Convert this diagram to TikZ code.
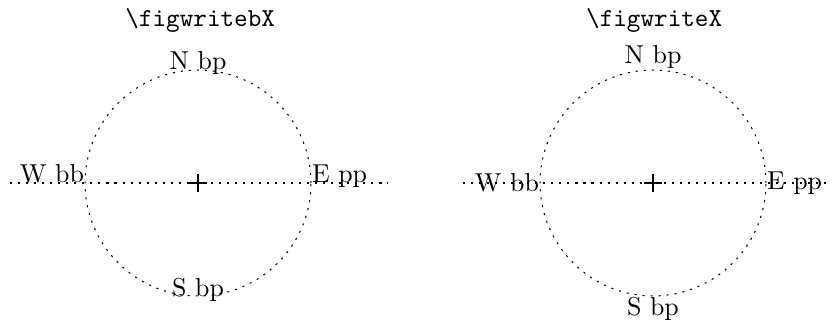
\documentclass[tikz,border=0pt]{standalone}
\usetikzlibrary{positioning}
\begin{document}
\begin{tikzpicture}[
  ring/.style={draw,dash pattern=on 0.8pt off 2.3pt,circle,minimum size=3.066cm,inner sep=0pt},
  guide/.style={dash pattern=on 0.8pt off 2.3pt},
  lbl/.style={inner sep=0pt},
  title/.style={font=\ttfamily},
  cross/.style={line width=0.7pt}]
  \useasboundingbox (-2.687,-1.886) rectangle (8.603,2.483);
  % left picture: labels sit on their base line
  \node[ring] (lring) at (0,0) {};
  \coordinate (lw) at (-2.55,0);
  \coordinate (le) at (2.58,0);
  \draw[guide] (lw) -- (le);
  \node[title] (ltitle) at (0.03,2.21) {\textbackslash figwritebX};
  \node[lbl,anchor=base] (ln) at (lring.north) {N bp};
  \node[lbl,anchor=base] (ls) at (lring.south) {S bp};
  \node[lbl,anchor=base east] (lwl) at (lring.west) {W bb};
  \node[lbl,anchor=base west] (lel) at (lring.east) {E pp};
  \draw[cross] ([xshift=-3.5pt]lring.center) -- ([xshift=3.5pt]lring.center);
  \draw[cross] ([yshift=-3.5pt]lring.center) -- ([yshift=3.5pt]lring.center);
  % right picture: labels outside the ring
  \node[ring] (rring) at (6.174,0) {};
  \coordinate (rw) at (3.596,0);
  \coordinate (re) at (8.55,0);
  \draw[guide] (rw) -- (re);
  \node[title] (rtitle) at (6.19,2.21) {\textbackslash figwriteX};
  \node[lbl,anchor=south] (rn) at (rring.north) {N bp};
  \node[lbl,anchor=north] (rs) at (rring.south) {S bp};
  \node[lbl,anchor=east] (rwl) at (rring.west) {W bb};
  \node[lbl,anchor=west] (rel) at (rring.east) {E pp};
  \draw[cross] ([xshift=-3.5pt]rring.center) -- ([xshift=3.5pt]rring.center);
  \draw[cross] ([yshift=-3.5pt]rring.center) -- ([yshift=3.5pt]rring.center);
\end{tikzpicture}
\end{document}
